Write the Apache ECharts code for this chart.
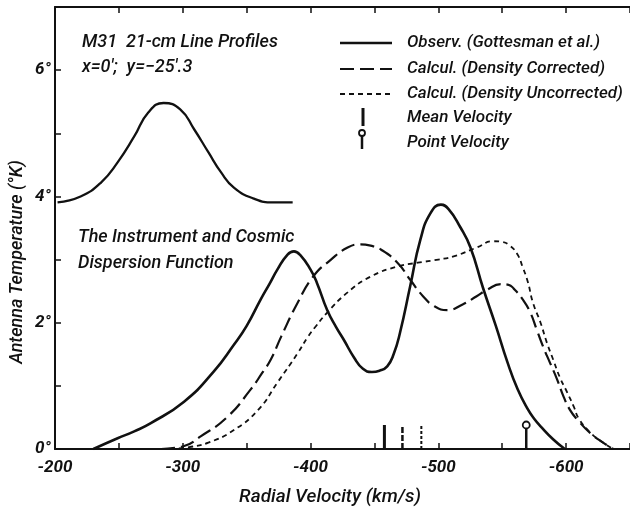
<!DOCTYPE html>
<html>
<head>
<meta charset="utf-8">
<script src="https://cdn.jsdelivr.net/npm/echarts@6/dist/echarts.min.js"></script>
<style>
  html, body { margin: 0; padding: 0; background: #ffffff; }
  #chart { width: 630px; height: 512px; }
</style>
</head>
<body>
<div id="chart"></div>
<script>
// M31 21-cm line profiles at x = 0', y = -25'.3  (velocity in km/s, antenna temperature in K)
const observed = [
  [-230, 0], [-249, 0.17], [-262, 0.28], [-275, 0.41], [-301, 0.75], [-324, 1.22],
  [-340, 1.65], [-350, 1.95], [-361, 2.37], [-368, 2.62], [-374, 2.84], [-382, 3.08],
  [-387, 3.13], [-392, 3.07], [-400, 2.84], [-405, 2.63], [-413, 2.2], [-420, 1.93],
  [-426, 1.73], [-434, 1.45], [-441, 1.27], [-448, 1.22], [-454, 1.24], [-460, 1.31],
  [-465, 1.5], [-470, 1.84], [-478, 2.58], [-486, 3.32], [-494, 3.74], [-502, 3.87],
  [-508, 3.8], [-517, 3.52], [-525, 3.2], [-535, 2.55], [-545, 1.95], [-554, 1.38],
  [-562, 0.95], [-570, 0.63], [-575, 0.48], [-580, 0.36], [-590, 0.15], [-599, 0]
];
const densityCorrected = [
  [-283, 0], [-300, 0.04], [-314, 0.2], [-335, 0.51], [-353, 0.94], [-362, 1.2],
  [-369, 1.42], [-377, 1.78], [-390, 2.32], [-402, 2.73], [-416, 3.0], [-429, 3.19],
  [-439, 3.24], [-447, 3.22], [-455, 3.16], [-468, 2.95], [-478, 2.68], [-488, 2.42],
  [-497, 2.26], [-507, 2.2], [-519, 2.29], [-530, 2.42], [-538, 2.52], [-549, 2.61],
  [-555, 2.6], [-559, 2.54], [-566, 2.37], [-572, 2.16], [-577, 1.89], [-582, 1.62],
  [-587.5, 1.36], [-593, 1.1], [-598, 0.83], [-603, 0.62], [-609, 0.46], [-619, 0.25],
  [-629, 0.1], [-637, 0]
];
const densityUncorrected = [
  [-290, 0], [-305, 0.03], [-320, 0.1], [-340, 0.3], [-359, 0.62], [-374, 1.05],
  [-390, 1.52], [-398, 1.78], [-404, 1.94], [-413, 2.16], [-429, 2.48], [-447, 2.73],
  [-468, 2.89], [-484, 2.95], [-500, 3.0], [-512, 3.05], [-530, 3.19], [-543, 3.29],
  [-550, 3.28], [-556, 3.22], [-562, 3.08], [-566, 2.88], [-570, 2.65], [-574, 2.32],
  [-580, 2.0], [-585, 1.68], [-590, 1.41], [-595, 1.14], [-601, 0.89], [-606, 0.67],
  [-610, 0.48], [-619, 0.26], [-629, 0.1], [-637, 0]
];
// instrument and cosmic dispersion function, drawn as an inset on a 3.9 K baseline
const dispersionFunction = [
  [-202, 3.905], [-220, 4.0], [-236, 4.22], [-249, 4.54], [-262, 4.95], [-273, 5.33],
  [-285, 5.48], [-298, 5.38], [-309, 5.06], [-320, 4.7], [-330, 4.38], [-340, 4.14],
  [-355, 3.97], [-371, 3.905], [-386, 3.905]
];
// mean velocities: observed, density corrected, density uncorrected
const meanVelocities = [-457.8, -471.9, -486.7];
const pointVelocity = -568.8;
const markerHeight = 0.38;

const xTickLabels = [-200, -300, -400, -500, -600];
const yTickLabels = [0, 2, 4, 6];

const INK = '#111111';
const FONT = 'Roboto, "DejaVu Sans", sans-serif';

const legendRows = [
  { text: 'Observ. (Gottesman et al.)', dash: null, width: 2.5 },
  { text: 'Calcul. (Density Corrected)', dash: [14, 6], width: 2.2 },
  { text: 'Calcul. (Density Uncorrected)', dash: [5, 4], width: 1.8 },
  { text: 'Mean Velocity', icon: 'bar' },
  { text: 'Point Velocity', icon: 'pin' }
];

function buildLegend() {
  const rowY = [43, 69, 94, 118, 143];
  const items = [];
  legendRows.forEach(function (row, i) {
    const y = rowY[i];
    if (row.icon === 'bar') {
      items.push({ type: 'line', shape: { x1: 363, y1: y - 10, x2: 363, y2: y + 8 },
        style: { stroke: INK, lineWidth: 3 } });
    } else if (row.icon === 'pin') {
      items.push({ type: 'line', shape: { x1: 362, y1: y - 7, x2: 362, y2: y + 6 },
        style: { stroke: INK, lineWidth: 2.5 } });
      items.push({ type: 'circle', shape: { cx: 362, cy: y - 10, r: 3 },
        style: { stroke: INK, lineWidth: 1.8, fill: '#fff' } });
    } else {
      items.push({ type: 'line', shape: { x1: 340, y1: y, x2: 392, y2: y },
        style: { stroke: INK, lineWidth: row.width, lineDash: row.dash || null } });
    }
    items.push({ type: 'text', x: 407, y: y,
      style: { text: row.text, fill: INK, font: 'italic 500 17px ' + FONT,
        verticalAlign: 'middle' } });
  });
  return items;
}

function annotation(text, x, y, size) {
  return { type: 'text', x: x, y: y,
    style: { text: text, fill: INK, font: 'italic 500 ' + size + 'px ' + FONT,
      verticalAlign: 'middle' } };
}

function lineSeries(data, width, dash) {
  return { type: 'line', data: data, showSymbol: false, symbol: 'none', smooth: 0.5,
    lineStyle: { color: INK, width: width, type: dash || 'solid', cap: 'butt', join: 'round' },
    silent: true, animation: false, z: 3 };
}

const markerStyles = [
  { width: 3, dash: 'solid' },
  { width: 2.5, dash: [6, 2] },
  { width: 2, dash: [3, 2] }
];

const series = [
  lineSeries(observed, 2.6, null),
  lineSeries(densityCorrected, 2.2, [14, 6]),
  lineSeries(densityUncorrected, 1.8, [5, 4]),
  lineSeries(dispersionFunction, 2.3, null)
];
meanVelocities.forEach(function (v, i) {
  series.push({ type: 'line', data: [[v, 0], [v, markerHeight]], symbol: 'none',
    lineStyle: { color: INK, width: markerStyles[i].width, type: markerStyles[i].dash, cap: 'butt' },
    animation: false, silent: true, z: 4 });
});
// point velocity: a stem topped with an open circle
series.push({ type: 'line', data: [[pointVelocity, 0], [pointVelocity, markerHeight]],
  symbol: 'none', lineStyle: { color: INK, width: 2.5, cap: 'butt' },
  animation: false, silent: true, z: 4 });
series.push({ type: 'scatter', data: [[pointVelocity, markerHeight]],
  symbol: 'circle', symbolSize: 7,
  itemStyle: { color: '#ffffff', borderColor: INK, borderWidth: 1.8, opacity: 1 },
  animation: false, silent: true, z: 5 });

const axisCommon = {
  axisLine: { show: true, lineStyle: { color: INK, width: 2 } },
  axisTick: { show: true, inside: true, length: 6, lineStyle: { color: INK, width: 1.5 } },
  splitLine: { show: false }
};

const chart = echarts.init(document.getElementById('chart'), null, { renderer: 'canvas' });
chart.setOption({
  backgroundColor: '#ffffff',
  animation: false,
  grid: { left: 55, right: 0, top: 7, bottom: 63, containLabel: false, outerBoundsMode: 'none' },
  xAxis: [
    Object.assign({
      type: 'value', min: -650, max: -200, interval: 50, inverse: true,
      axisLabel: {
        color: INK, fontFamily: FONT, fontSize: 17, fontStyle: 'italic', fontWeight: 'bold',
        margin: 10,
        formatter: function (v) { return xTickLabels.indexOf(v) >= 0 ? String(v) : ''; }
      }
    }, axisCommon),
    Object.assign({
      type: 'value', position: 'top', min: -650, max: -200, interval: 50, inverse: true,
      axisLabel: { show: false }
    }, axisCommon)
  ],
  yAxis: Object.assign({
    type: 'value', min: 0, max: 7, interval: 1,
    axisLabel: {
      color: INK, fontFamily: FONT, fontSize: 17, fontStyle: 'italic', fontWeight: 'bold',
      margin: 4,
      formatter: function (v) { return yTickLabels.indexOf(v) >= 0 ? v + '°' : ''; }
    }
  }, axisCommon),
  series: series,
  graphic: [
    annotation('M31  21-cm Line Profiles', 82, 42, 18),
    annotation('x=0′;  y=−25′.3', 82, 67, 18),
    annotation('The Instrument and Cosmic', 78, 237, 18),
    annotation('Dispersion Function', 78, 263, 18),
    { type: 'text', x: 330, y: 497,
      style: { text: 'Radial Velocity (km/s)', fill: INK, font: 'italic 500 19px ' + FONT,
        align: 'center', verticalAlign: 'middle' } },
    { type: 'text', x: 17, y: 262, rotation: Math.PI / 2,
      style: { text: 'Antenna Temperature (°K)', fill: INK, font: 'italic 500 18px ' + FONT,
        align: 'center', verticalAlign: 'middle' } }
  ].concat(buildLegend())
});
</script>
</body>
</html>
